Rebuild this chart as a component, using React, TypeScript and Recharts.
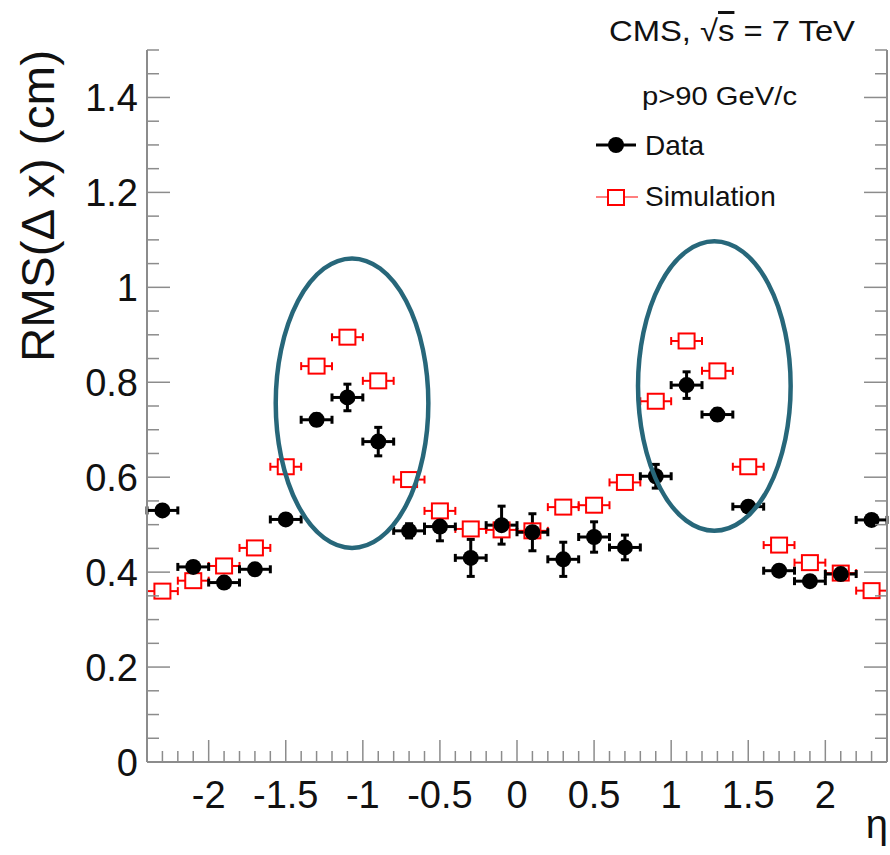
import React from 'react';
import { ScatterChart, Scatter, XAxis, YAxis, ErrorBar, ReferenceDot } from 'recharts';

// Bin centres in eta (bin width 0.2)
const ETA = [-2.3, -2.1, -1.9, -1.7, -1.5, -1.3, -1.1, -0.9, -0.7, -0.5, -0.3, -0.1,
  0.1, 0.3, 0.5, 0.7, 0.9, 1.1, 1.3, 1.5, 1.7, 1.9, 2.1, 2.3];
const ETA_HALF_BIN = 0.1;

const DATA_RMS = [0.530, 0.411, 0.378, 0.406, 0.511, 0.721, 0.768, 0.675, 0.487, 0.496, 0.430, 0.499,
  0.484, 0.427, 0.474, 0.452, 0.602, 0.794, 0.732, 0.538, 0.403, 0.381, 0.396, 0.510];
const DATA_ERR = [0.008, 0.008, 0.008, 0.008, 0.010, 0.012, 0.028, 0.030, 0.015, 0.030, 0.039, 0.040,
  0.039, 0.036, 0.032, 0.026, 0.025, 0.028, 0.012, 0.010, 0.008, 0.008, 0.010, 0.008];
const SIM_RMS = [0.360, 0.382, 0.413, 0.451, 0.622, 0.834, 0.895, 0.803, 0.595, 0.529, 0.491, 0.489,
  0.487, 0.537, 0.541, 0.589, 0.760, 0.887, 0.824, 0.622, 0.457, 0.420, 0.398, 0.361];

const X_LABELS = [-2, -1.5, -1, -0.5, 0, 0.5, 1, 1.5, 2];
const Y_LABELS = [0, 0.2, 0.4, 0.6, 0.8, 1, 1.2, 1.4];

// highlighted regions: centre and half-extent, in data units
const ELLIPSES = [
  { eta: -1.07, rms: 0.756, dEta: 0.495, dRms: 0.305 },
  { eta: 1.28, rms: 0.792, dEta: 0.495, dRms: 0.305 },
];

const X_DOMAIN: [number, number] = [-2.4, 2.4];
const Y_DOMAIN: [number, number] = [0, 1.5];

// tick positions (minor every 0.1 in eta, every 0.05 in rms)
const X_TICKS = Array.from({ length: 49 }, (_, i) => Math.round((-2.4 + i * 0.1) * 10) / 10);
const Y_TICKS = Array.from({ length: 31 }, (_, i) => Math.round(i * 5) / 100);

const W = 890;
const H = 855;
const Y_AXIS_W = 147;
const X_AXIS_H = 93;
const RIGHT_W = 3;
const TOP = 50;
const PLOT_W = W - Y_AXIS_W - RIGHT_W;
const PLOT_H = H - TOP - X_AXIS_H;

const FONT = '"Liberation Sans", Arial, Helvetica, sans-serif';
const INK = '#111';
const AXIS = '#8c8c8c';
const RING = '#27677a';

const dataPts = ETA.map((eta, i) => ({ eta, rms: DATA_RMS[i], ex: ETA_HALF_BIN, ey: DATA_ERR[i] }));
const simPts = ETA.map((eta, i) => ({ eta, rms: SIM_RMS[i], ex: ETA_HALF_BIN }));

const isMajorX = (v: number) => X_LABELS.includes(v);
const isMajorY = (v: number) => Y_LABELS.includes(v);

function BottomTick({ x, y, payload }: any) {
  const v = payload.value;
  const major = isMajorX(v);
  return (
    <g>
      <line x1={x} x2={x} y1={y} y2={y - (major ? 22 : 11)} stroke={AXIS} strokeWidth={1.5} />
      {major && (
        <text x={x} y={y + 46} textAnchor="middle" fontSize={38} fontFamily={FONT} fill={INK}>{v}</text>
      )}
    </g>
  );
}

function TopTick({ x, y, payload }: any) {
  const major = isMajorX(payload.value);
  return <line x1={x} x2={x} y1={y} y2={y + (major ? 21 : 10)} stroke={AXIS} strokeWidth={1.5} />;
}

function LeftTick({ x, y, payload }: any) {
  const v = payload.value;
  const major = isMajorY(v);
  return (
    <g>
      <line x1={x} x2={x + (major ? 23 : 12)} y1={y} y2={y} stroke={AXIS} strokeWidth={1.5} />
      {major && (
        <text x={x - 9} y={y + 13.5} textAnchor="end" fontSize={38} fontFamily={FONT} fill={INK}>{v}</text>
      )}
    </g>
  );
}

function RightTick({ x, y, payload }: any) {
  const major = isMajorY(payload.value);
  return <line x1={x} x2={x - (major ? 23 : 12)} y1={y} y2={y} stroke={AXIS} strokeWidth={1.5} />;
}

const DataMarker = ({ cx, cy }: any) => <circle cx={cx} cy={cy} r={8} fill="#000" />;
const SimMarker = ({ cx, cy }: any) => (
  <rect x={cx - 8} y={cy - 7.5} width={16} height={15} fill="#fff" stroke="#f00" strokeWidth={2} />
);

export default function App() {
  const pxPerEta = PLOT_W / (X_DOMAIN[1] - X_DOMAIN[0]);
  const pxPerRms = PLOT_H / (Y_DOMAIN[1] - Y_DOMAIN[0]);

  return (
    <div style={{ position: 'absolute', left: 0, top: 0, width: W, height: H, background: '#fff', fontFamily: FONT }}>
      <ScatterChart width={W} height={H} margin={{ top: TOP, right: 0, bottom: 0, left: 0 }}>
        <XAxis
          type="number" dataKey="eta" domain={X_DOMAIN} ticks={X_TICKS} interval={0}
          height={X_AXIS_H} tickSize={0} tickMargin={0} tickLine={false}
          axisLine={{ stroke: AXIS, strokeWidth: 2 }} tick={<BottomTick />}
          allowDataOverflow
        />
        <XAxis
          xAxisId="top" orientation="top" type="number" domain={X_DOMAIN} ticks={X_TICKS} interval={0}
          height={0} tickSize={0} tickMargin={0} tickLine={false}
          axisLine={{ stroke: AXIS, strokeWidth: 2 }} tick={<TopTick />}
          allowDataOverflow
        />
        <YAxis
          type="number" dataKey="rms" domain={Y_DOMAIN} ticks={Y_TICKS} interval={0}
          width={Y_AXIS_W} tickSize={0} tickMargin={0} tickLine={false}
          axisLine={{ stroke: AXIS, strokeWidth: 2 }} tick={<LeftTick />}
          allowDataOverflow
        />
        <YAxis
          yAxisId="right" orientation="right" type="number" domain={Y_DOMAIN} ticks={Y_TICKS} interval={0}
          width={RIGHT_W} tickSize={0} tickMargin={0} tickLine={false}
          axisLine={{ stroke: AXIS, strokeWidth: 2 }} tick={<RightTick />}
          allowDataOverflow
        />

        <Scatter data={simPts} shape={<SimMarker />} isAnimationActive={false}>
          <ErrorBar dataKey="ex" direction="x" width={4} stroke="#f00" strokeWidth={2} />
        </Scatter>
        <Scatter data={dataPts} shape={<DataMarker />} isAnimationActive={false}>
          <ErrorBar dataKey="ex" direction="x" width={4} stroke="#000" strokeWidth={3} />
          <ErrorBar dataKey="ey" direction="y" width={4} stroke="#000" strokeWidth={3} />
        </Scatter>

        {ELLIPSES.map((e, i) => (
          <ReferenceDot
            key={i}
            x={e.eta}
            y={e.rms}
            shape={(p: any) => (
              <ellipse
                cx={p.cx} cy={p.cy}
                rx={e.dEta * pxPerEta} ry={e.dRms * pxPerRms}
                fill="none" stroke={RING} strokeWidth={4.5}
              />
            )}
          />
        ))}
      </ScatterChart>

      {/* titles and legend, ROOT style */}
      <svg width={W} height={H} style={{ position: 'absolute', left: 0, top: 0, pointerEvents: 'none' }}>
        <text x={855} y={41} textAnchor="end" fontSize={30} fontFamily={FONT} fill={INK}
          textLength={246} lengthAdjust="spacingAndGlyphs">
          CMS, √<tspan style={{ textDecoration: 'overline' }}>s</tspan> = 7 TeV
        </text>
        <text x={642} y={105} fontSize={26} fontFamily={FONT} fill={INK}
          textLength={155} lengthAdjust="spacingAndGlyphs">
          p&gt;90 GeV/c
        </text>

        <line x1={596} x2={636} y1={145} y2={145} stroke="#000" strokeWidth={3} />
        <circle cx={616} cy={145} r={8} fill="#000" />
        <text x={645} y={155} fontSize={28} fontFamily={FONT} fill={INK}>Data</text>

        <line x1={596} x2={638} y1={197} y2={197} stroke="#f00" strokeWidth={1.2} />
        <rect x={608} y={190} width={16} height={15} fill="#fff" stroke="#f00" strokeWidth={2} />
        <text x={645} y={206} fontSize={28} fontFamily={FONT} fill={INK}>Simulation</text>

        <text transform="translate(54, 50) rotate(-90)" textAnchor="end" fontSize={47} fontFamily={FONT} fill={INK}
          textLength={312} lengthAdjust="spacingAndGlyphs">
          RMS(Δ x) (cm)
        </text>
        <text x={888} y={838} textAnchor="end" fontSize={40} fontFamily={FONT} fill={INK}>η</text>
      </svg>
    </div>
  );
}
